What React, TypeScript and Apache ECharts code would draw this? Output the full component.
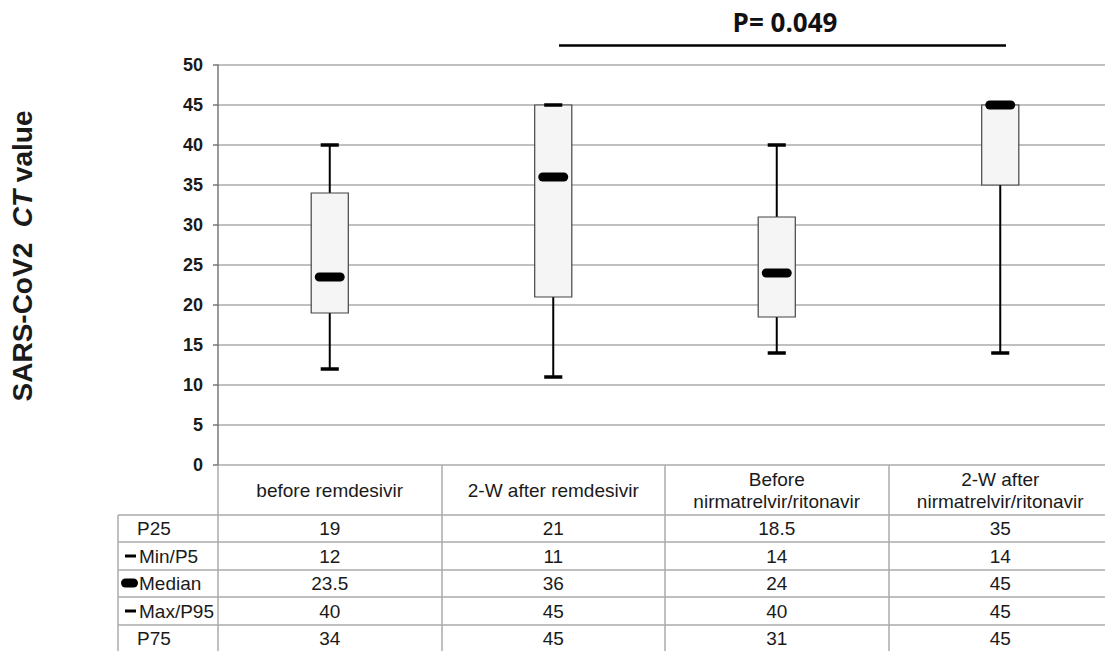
import React, { useEffect, useRef } from "react";
import * as echarts from "echarts";

const categories = [
  "before remdesivir",
  "2-W after remdesivir",
  "Before\nnirmatrelvir/ritonavir",
  "2-W after\nnirmatrelvir/ritonavir",
];
const p25 = [19, 21, 18.5, 35];
const minP5 = [12, 11, 14, 14];
const median = [23.5, 36, 24, 45];
const maxP95 = [40, 45, 40, 45];
const p75 = [34, 45, 31, 45];

const rowLabels = ["P25", "Min/P5", "Median", "Max/P95", "P75"];
const rowValues = [p25, minP5, median, maxP95, p75];
const pValueText = "P= 0.049";

const FONT = "'Liberation Sans', Arial, sans-serif";
const GRID_COLOR = "#ababab";
const TEXT = "#1a1a1a";
const TABLE_FS = 19;

export default function App() {
  const ref = useRef<HTMLDivElement>(null);

  useEffect(() => {
    if (!ref.current) return;
    const chart = echarts.init(ref.current, null, { renderer: "svg" });

    const boxData = categories.map((_, i) => [i, minP5[i], p25[i], median[i], p75[i], maxP95[i]]);

    const rowOffsets = [63, 91, 118, 146, 173];
    const rowLines = [515, 542, 570, 597, 625];

    const extraAxes = rowValues.map((arr, r) => ({
      type: "category",
      gridIndex: 0,
      position: "bottom",
      offset: rowOffsets[r],
      data: categories,
      axisLine: { show: false },
      axisTick: { show: false },
      splitLine: { show: false },
      axisLabel: {
        interval: 0,
        margin: 0,
        verticalAlign: "middle",
        fontSize: TABLE_FS,
        fontFamily: FONT,
        color: TEXT,
        formatter: (_v: string, idx: number) => String(arr[idx]),
      },
    }));

    const graphics: any[] = [];
    graphics.push({
      type: "text",
      x: 22,
      y: 256,
      rotation: Math.PI / 2,
      style: {
        text: "{b|SARS-CoV2  }{i|CT}{b| value}",
        align: "center",
        verticalAlign: "middle",
        rich: {
          b: { fontWeight: "bold", fontSize: 28, fontFamily: FONT, fill: TEXT },
          i: { fontWeight: "bold", fontStyle: "italic", fontSize: 28, fontFamily: FONT, fill: TEXT },
        },
      },
    });
    graphics.push({
      type: "text",
      x: 785,
      y: 22,
      style: {
        text: pValueText,
        align: "center",
        verticalAlign: "middle",
        fontWeight: "bold",
        fontSize: 26,
        fontFamily: "'Open Sans', sans-serif",
        fill: "#111",
      },
    });
    graphics.push({
      type: "line",
      shape: { x1: 559, y1: 45.5, x2: 1006, y2: 45.5 },
      style: { stroke: "#000", lineWidth: 2.5 },
    });
    rowLines.forEach((y) =>
      graphics.push({
        type: "line",
        shape: { x1: 118, y1: y, x2: 1112, y2: y },
        style: { stroke: GRID_COLOR, lineWidth: 1.5 },
      })
    );
    graphics.push({
      type: "line",
      shape: { x1: 118, y1: 515, x2: 118, y2: 651 },
      style: { stroke: GRID_COLOR, lineWidth: 1.5 },
    });
    const rowCenters = [528, 556, 583, 611, 638];
    rowLabels.forEach((lab, r) => {
      const hasMarker = r >= 1 && r <= 3;
      graphics.push({
        type: "text",
        x: hasMarker ? 139 : 137,
        y: rowCenters[r],
        style: {
          text: lab,
          align: "left",
          verticalAlign: "middle",
          fontSize: TABLE_FS,
          fontFamily: FONT,
          fill: TEXT,
        },
      });
      if (r === 1 || r === 3) {
        graphics.push({
          type: "rect",
          shape: { x: 125, y: rowCenters[r] - 1.5, width: 11, height: 3 },
          style: { fill: "#000" },
        });
      }
      if (r === 2) {
        graphics.push({
          type: "rect",
          shape: { x: 121, y: rowCenters[r] - 4.5, width: 17, height: 9, r: 4.5 },
          style: { fill: "#000" },
        });
      }
    });

    const option: any = {
      animation: false,
      backgroundColor: "#ffffff",
      grid: { left: 218, top: 65, width: 894, height: 400 },
      xAxis: [
        {
          type: "category",
          data: categories,
          position: "bottom",
          axisLine: { show: false },
          axisTick: {
            show: true,
            length: 186,
            alignWithLabel: false,
            lineStyle: { color: GRID_COLOR, width: 1.5 },
          },
          splitLine: { show: false },
          axisLabel: {
            interval: 0,
            margin: 25,
            verticalAlign: "middle",
            fontSize: TABLE_FS,
            lineHeight: 22,
            fontFamily: FONT,
            color: TEXT,
          },
        },
        ...extraAxes,
      ],
      yAxis: {
        type: "value",
        min: 0,
        max: 50,
        interval: 5,
        axisLine: { show: true, lineStyle: { color: "#777", width: 1.5 } },
        axisTick: { show: true, length: 5, lineStyle: { color: "#777", width: 1.5 } },
        axisLabel: {
          margin: 15,
          fontSize: 18,
          fontWeight: "bold",
          fontFamily: FONT,
          color: TEXT,
        },
        splitLine: { lineStyle: { color: GRID_COLOR, width: 1.5 } },
      },
      graphic: graphics,
      series: [
        {
          type: "custom",
          xAxisIndex: 0,
          yAxisIndex: 0,
          encode: { x: 0, y: [1, 2, 3, 4, 5] },
          data: boxData,
          renderItem: (params: any, api: any) => {
            const xi = api.value(0);
            const pMin = api.coord([xi, api.value(1)]);
            const pQ1 = api.coord([xi, api.value(2)]);
            const pMed = api.coord([xi, api.value(3)]);
            const pQ3 = api.coord([xi, api.value(4)]);
            const pMax = api.coord([xi, api.value(5)]);
            const band = api.size([1, 0])[0];
            const cx = pMin[0];
            const boxW = band * 0.166;
            const capW = band * 0.081;
            const medW = band * 0.134;
            const medH = 9;
            const children: any[] = [
              {
                type: "line",
                shape: { x1: cx, y1: pMin[1], x2: cx, y2: pQ1[1] },
                style: { stroke: "#000", lineWidth: 2 },
              },
              {
                type: "line",
                shape: { x1: cx, y1: pQ3[1], x2: cx, y2: pMax[1] },
                style: { stroke: "#000", lineWidth: 2 },
              },
              {
                type: "rect",
                shape: { x: cx - boxW / 2, y: pQ3[1], width: boxW, height: pQ1[1] - pQ3[1] },
                style: { fill: "#f5f5f5", stroke: "#444", lineWidth: 1.2 },
              },
              {
                type: "rect",
                shape: { x: cx - capW / 2, y: pMin[1] - 1.75, width: capW, height: 3.5 },
                style: { fill: "#000" },
              },
              {
                type: "rect",
                shape: { x: cx - capW / 2, y: pMax[1] - 1.75, width: capW, height: 3.5 },
                style: { fill: "#000" },
              },
              {
                type: "rect",
                shape: { x: cx - medW / 2, y: pMed[1] - medH / 2, width: medW, height: medH, r: 4.5 },
                style: { fill: "#000" },
              },
            ];
            return { type: "group", children };
          },
        },
      ],
    };

    chart.setOption(option);
    return () => chart.dispose();
  }, []);

  return (
    <div
      style={{
        position: "fixed",
        left: 0,
        top: 0,
        width: 1105,
        height: 651,
        overflow: "hidden",
        background: "#fff",
      }}
    >
      <div ref={ref} style={{ width: 1112, height: 651 }} />
    </div>
  );
}
